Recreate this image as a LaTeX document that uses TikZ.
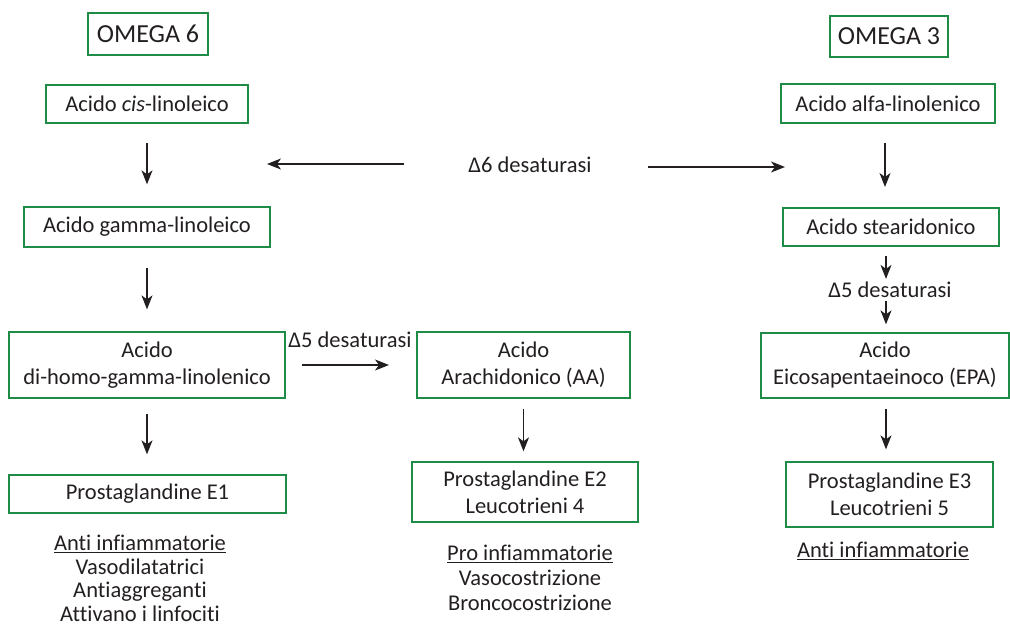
\documentclass[tikz,border=0pt]{standalone}
\usepackage{fontspec}
\setmainfont{Carlito}[Ligatures=NoCommon]
\usetikzlibrary{arrows.meta}
\definecolor{boxgreen}{RGB}{30,140,70}
\definecolor{ink}{RGB}{35,31,32}
\begin{document}
\begin{tikzpicture}[x=1pt,y=-1pt,
  every node/.style={text=ink,font=\fontsize{22.5}{27}\selectfont,inner sep=0pt},
  box/.style={draw=boxgreen,line width=1.3pt,align=center},
  note/.style={align=center,font=\fontsize{22.5}{23.5}\selectfont},
  arr/.style={draw=ink,line width=1.2pt,-{Stealth[length=14pt,width=11pt,inset=4pt]}}]
\useasboundingbox (0,0) rectangle (1010,628);
% top headers
\node[box,minimum width=120pt,minimum height=42pt,font=\fontsize{26}{30}\selectfont] (o6) at (148,34) {OMEGA 6};
\node[box,minimum width=118pt,minimum height=41pt,font=\fontsize{26}{30}\selectfont] (o3) at (889,36.5) {OMEGA 3};
% omega 6 column
\node[box,minimum width=202pt,minimum height=38pt] (cis) at (147,104) {Acido \textit{cis}-linoleico};
\node[box,minimum width=246pt,minimum height=40pt] (gla) at (147,227) {Acido gamma-linoleico};
\node[box,minimum width=276pt,minimum height=66pt] (dgla) at (147,365) {Acido\\di-homo-gamma-linolenico};
\node[box,minimum width=277pt,minimum height=38pt] (pge1) at (147.5,494) {Prostaglandine E1};
\node[note] (eff1) at (140,578.5) {\underline{Anti infiammatorie}\\Vasodilatatrici\\Antiaggreganti\\Attivano i linfociti};
% middle column
\node[box,minimum width=213pt,minimum height=66pt] (aa) at (523.5,365) {Acido\\Arachidonico (AA)};
\node[box,minimum width=226pt,minimum height=60pt] (pge2) at (525,492) {Prostaglandine E2\\Leucotrieni 4};
\node[note,font=\fontsize{22.5}{25}\selectfont] (eff2) at (530,578) {\underline{Pro infiammatorie}\\Vasocostrizione\\Broncocostrizione};
% omega 3 column
\node[box,minimum width=214pt,minimum height=39pt] (ala) at (888,103.5) {Acido alfa-linolenico};
\node[box,minimum width=216pt,minimum height=38pt] (sda) at (891,227) {Acido stearidonico};
\node[box,minimum width=248pt,minimum height=65pt] (epa) at (885,365.5) {Acido\\Eicosapentaeinoco (EPA)};
\node[box,minimum width=207pt,minimum height=65pt] (pge3) at (889.5,494.5) {Prostaglandine E3\\Leucotrieni 5};
\node[note] (eff3) at (883,551) {\underline{Anti infiammatorie}};
% enzyme labels
\node (d6) at (530,165) {Δ6 desaturasi};
\node (d5a) at (350,340) {Δ5 desaturasi};
\node (d5b) at (890,290) {Δ5 desaturasi};
% arrows
\coordinate (d6l) at (404,164);
\coordinate (d6lt) at (267,164);
\coordinate (d6r) at (648,167);
\coordinate (d6rt) at (785,167);
\draw[arr] (d6l) -- (d6lt);
\draw[arr] (d6r) -- (d6rt);
\draw[arr,shorten <=19pt,shorten >=22pt] (cis.south) -- (cis.south |- gla.north);
\draw[arr,shorten <=20pt,shorten >=22pt] (gla.south) -- (gla.south |- dgla.north);
\draw[arr,shorten <=15pt,shorten >=20pt] (dgla.south) -- (dgla.south |- pge1.north);
\coordinate (m1) at (302,365);
\coordinate (m2) at (389,365);
\draw[arr] (m1) -- (m2);
\draw[arr,shorten <=10pt,shorten >=10pt] (aa.south) -- (aa.south |- pge2.north);
\draw[arr,shorten <=19pt,shorten >=21pt] (ala.south -| 885,0) -- (885,208);
\draw[arr,shorten <=9pt,shorten >=3pt] (sda.south -| 886,0) -- (d5b.north -| 886,0);
\draw[arr,shorten <=3pt,shorten >=8pt] (d5b.south -| 886,0) -- (epa.north -| 886,0);
\draw[arr,shorten <=10pt,shorten >=12pt] (epa.south -| 886,0) -- (pge3.north -| 886,0);
\end{tikzpicture}
\end{document}
